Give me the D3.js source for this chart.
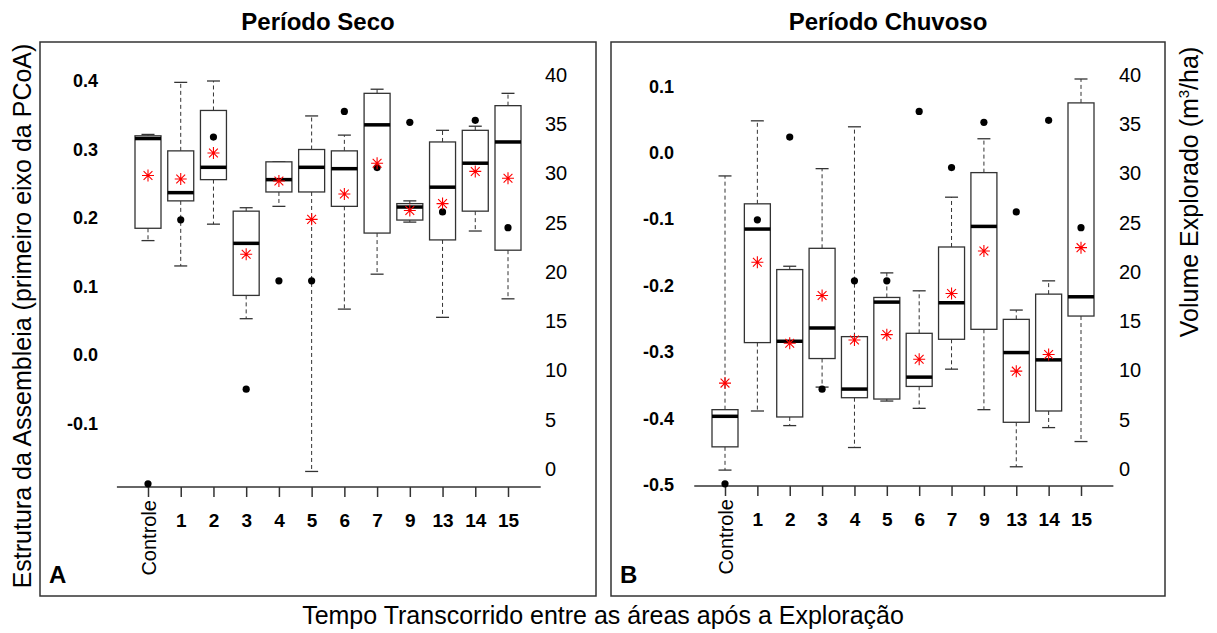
<!DOCTYPE html>
<html>
<head>
<meta charset="utf-8">
<script src="https://cdn.jsdelivr.net/npm/d3@7"></script>
<style>
  body { margin: 0; background: #fff; }
  svg { display: block; }
  text { font-family: "Liberation Sans", Arial, sans-serif; fill: #000; }
  .narrow { font-family: "Liberation Sans Narrow", "Arial Narrow", "Liberation Sans", sans-serif; }
</style>
</head>
<body>
<div class="chart"></div>
<script>
const categorias = ["Controle", "1", "2", "3", "4", "5", "6", "7", "9", "13", "14", "15"]

// Período Seco - primeiro eixo da PCoA
const secoMin     = [0.167, 0.130, 0.191, 0.053, 0.217, -0.170, 0.067, 0.118, 0.194, 0.055, 0.181, 0.082]
const secoQ1      = [0.185, 0.225, 0.256, 0.087, 0.238, 0.238, 0.217, 0.178, 0.197, 0.168, 0.210, 0.153]
const secoMediana = [0.316, 0.237, 0.274, 0.163, 0.256, 0.274, 0.272, 0.336, 0.216, 0.245, 0.280, 0.311]
const secoQ3      = [0.320, 0.298, 0.357, 0.210, 0.282, 0.300, 0.298, 0.382, 0.221, 0.311, 0.328, 0.364]
const secoMax     = [0.322, 0.398, 0.400, 0.215, 0.282, 0.349, 0.321, 0.388, 0.225, 0.328, 0.334, 0.382]
const secoMedia   = [0.262, 0.257, 0.295, 0.147, 0.254, 0.198, 0.235, 0.280, 0.211, 0.221, 0.268, 0.258]

// Período Chuvoso - primeiro eixo da PCoA
const chuvMin     = [-0.478, -0.389, -0.411, -0.353, -0.444, -0.374, -0.385, -0.326, -0.387, -0.473, -0.414, -0.435]
const chuvQ1      = [-0.443, -0.286, -0.398, -0.310, -0.369, -0.371, -0.352, -0.281, -0.266, -0.406, -0.389, -0.246]
const chuvMediana = [-0.397, -0.115, -0.284, -0.264, -0.356, -0.225, -0.338, -0.226, -0.111, -0.301, -0.312, -0.217]
const chuvQ3      = [-0.387, -0.077, -0.176, -0.144, -0.277, -0.218, -0.272, -0.142, -0.030, -0.251, -0.213, 0.075]
const chuvMax     = [-0.035, 0.048, -0.171, -0.024, 0.039, -0.181, -0.208, -0.067, 0.021, -0.237, -0.193, 0.111]
const chuvMedia   = [-0.347, -0.165, -0.287, -0.215, -0.282, -0.274, -0.311, -0.212, -0.148, -0.329, -0.304, -0.143]

// Volume explorado (m3/ha), eixo da direita
const volume = [-1.5, 25.3, 33.7, 8.1, 19.1, 19.1, 36.3, 30.6, 35.2, 26.1, 35.4, 24.5]

const ticksSeco = [-0.1, 0.0, 0.1, 0.2, 0.3, 0.4]
const ticksChuv = [-0.5, -0.4, -0.3, -0.2, -0.1, 0.0, 0.1]
const ticksVolume = [0, 5, 10, 15, 20, 25, 30, 35, 40]

const width = 1217
const height = 633

const svg = d3.select(".chart").append("svg")
    .attr("width", width)
    .attr("height", height)

const yVol = d3.scaleLinear().domain([0, 40]).range([469, 75])

const panels = [
  { titulo: "Período Seco", letra: "A", frame: [40, 42, 596, 596], xRange: [148, 508], axisY: 487,
    yDomain: [-0.2, 0.4], yRange: [492, 81], ticks: ticksSeco, leftX: 98, rightX: 545,
    min: secoMin, q1: secoQ1, med: secoMediana, q3: secoQ3, max: secoMax, media: secoMedia },
  { titulo: "Período Chuvoso", letra: "B", frame: [611, 42, 1165, 596], xRange: [725, 1081], axisY: 486,
    yDomain: [-0.5, 0.1], yRange: [484.7, 86.3], ticks: ticksChuv, leftX: 674, rightX: 1119,
    min: chuvMin, q1: chuvQ1, med: chuvMediana, q3: chuvQ3, max: chuvMax, media: chuvMedia }
]

const boxW = 26
const capW = 13

function asterisk(cx, cy) {
  const p = d3.path()
  const r = 6, d = 4.4
  p.moveTo(cx - r, cy); p.lineTo(cx + r, cy)
  p.moveTo(cx, cy - r); p.lineTo(cx, cy + r)
  p.moveTo(cx - d, cy - d); p.lineTo(cx + d, cy + d)
  p.moveTo(cx - d, cy + d); p.lineTo(cx + d, cy - d)
  return p.toString()
}

panels.forEach(pn => {
  const [x0, y0, x1, y1] = pn.frame
  const g = svg.append("g")

  g.append("rect")
    .attr("x", x0).attr("y", y0)
    .attr("width", x1 - x0).attr("height", y1 - y0)
    .attr("fill", "none").attr("stroke", "#333").attr("stroke-width", 1.5)

  g.append("text")
    .attr("x", (x0 + x1) / 2).attr("y", 30)
    .attr("text-anchor", "middle")
    .attr("font-size", "24px").attr("font-weight", "bold")
    .text(pn.titulo)

  g.append("text")
    .attr("x", x0 + 9).attr("y", 583)
    .attr("font-size", "24px").attr("font-weight", "bold")
    .text(pn.letra)

  const x = d3.scalePoint().domain(categorias).range(pn.xRange)
  const y = d3.scaleLinear().domain(pn.yDomain).range(pn.yRange)
  const step = x.step()

  // eixo esquerdo (so rotulos)
  const yAxis = g.append("g")
    .attr("transform", `translate(${pn.leftX},0)`)
    .call(d3.axisLeft(y).tickValues(pn.ticks).tickSize(0).tickPadding(0)
      .tickFormat(d => d.toFixed(1)))
  yAxis.select(".domain").remove()
  yAxis.selectAll("text")
    .attr("class", "narrow")
    .attr("font-size", "18px").attr("font-weight", "bold")
    .attr("font-family", null)

  // eixo direito (volume)
  const vAxis = g.append("g")
    .attr("transform", `translate(${pn.rightX},0)`)
    .call(d3.axisRight(yVol).tickValues(ticksVolume).tickSize(0).tickPadding(0))
  vAxis.select(".domain").remove()
  vAxis.selectAll("text")
    .attr("font-size", "20px")
    .attr("font-family", null)

  // eixo x
  const xAxis = g.append("g")
    .attr("transform", `translate(0,${pn.axisY})`)
    .call(d3.axisBottom(x).tickSize(10))
  xAxis.select(".domain").remove()
  xAxis.append("line")
    .attr("x1", pn.xRange[0] - step * 0.95).attr("x2", pn.xRange[1] + step)
    .attr("stroke", "#333").attr("stroke-width", 1.5)
  xAxis.selectAll(".tick line").attr("stroke", "#333").attr("stroke-width", 1.5)
  xAxis.selectAll(".tick text")
    .attr("font-family", null)
    .attr("class", "narrow")
    .attr("font-size", "19px").attr("font-weight", "bold")
    .attr("y", 40).attr("dy", 0)
  xAxis.selectAll(".tick text").filter(d => d === "Controle")
    .attr("class", null)
    .attr("font-weight", "normal").attr("font-size", "20px")
    .attr("text-anchor", "end")
    .attr("x", 0).attr("y", 0)
    .attr("transform", "translate(7,13) rotate(-90)")

  // caixas
  categorias.forEach((c, i) => {
    const cx = x(c)
    const bg = g.append("g")
    // bigodes
    bg.append("line")
      .attr("x1", cx).attr("x2", cx)
      .attr("y1", y(pn.q3[i])).attr("y2", y(pn.max[i]))
      .attr("stroke", "#333").attr("stroke-dasharray", "4,3")
    bg.append("line")
      .attr("x1", cx).attr("x2", cx)
      .attr("y1", y(pn.q1[i])).attr("y2", y(pn.min[i]))
      .attr("stroke", "#333").attr("stroke-dasharray", "4,3")
    ;[pn.max[i], pn.min[i]].forEach(v => {
      bg.append("line")
        .attr("x1", cx - capW / 2).attr("x2", cx + capW / 2)
        .attr("y1", y(v)).attr("y2", y(v))
        .attr("stroke", "#333").attr("stroke-width", 1.3)
    })
    bg.append("rect")
      .attr("x", cx - boxW / 2).attr("width", boxW)
      .attr("y", y(pn.q3[i])).attr("height", y(pn.q1[i]) - y(pn.q3[i]))
      .attr("fill", "#fff").attr("stroke", "#333").attr("stroke-width", 1.3)
    bg.append("line")
      .attr("x1", cx - boxW / 2).attr("x2", cx + boxW / 2)
      .attr("y1", y(pn.med[i])).attr("y2", y(pn.med[i]))
      .attr("stroke", "#000").attr("stroke-width", 3.5)

    bg.append("circle")
      .attr("cx", cx).attr("cy", yVol(volume[i]))
      .attr("r", 3.6).attr("fill", "#000")

    bg.append("path")
      .attr("d", asterisk(cx, y(pn.media[i])))
      .attr("stroke", "#f00").attr("stroke-width", 1.1).attr("fill", "none")
  })
})

svg.append("text")
  .attr("transform", "translate(31,316) rotate(-90)")
  .attr("text-anchor", "middle")
  .attr("font-size", "25px")
  .text("Estrutura da Assembleia (primeiro eixo da PCoA)")

const vt = svg.append("text")
  .attr("transform", "translate(1198,192) rotate(-90)")
  .attr("text-anchor", "middle")
  .attr("font-size", "25px")
vt.append("tspan").text("Volume Explorado (m")
vt.append("tspan").attr("font-size", "15px").attr("dy", "-9").text("3")
vt.append("tspan").attr("dy", "9").text("/ha)")

svg.append("text")
  .attr("x", 603).attr("y", 624)
  .attr("text-anchor", "middle")
  .attr("font-size", "25px")
  .text("Tempo Transcorrido entre as áreas após a Exploração")
</script>
</body>
</html>
